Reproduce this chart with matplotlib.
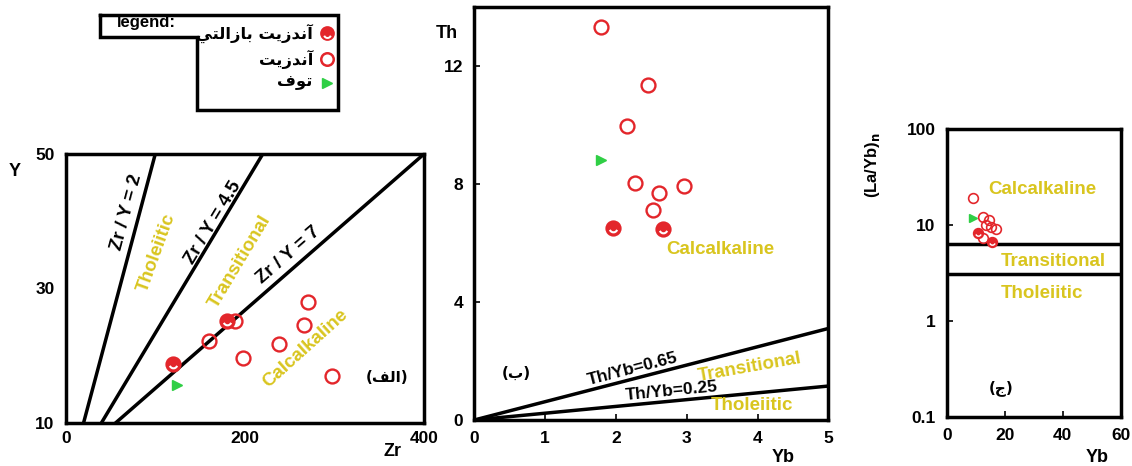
import matplotlib
matplotlib.use('Agg')
import matplotlib.pyplot as plt
from matplotlib.path import Path
from matplotlib.lines import Line2D

plt.rcParams['font.family'] = ['Liberation Sans', 'DejaVu Sans']
plt.rcParams['font.weight'] = 'bold'

RED = '#e3262b'
GREEN = '#2fcf45'
GOLD = '#d9c51f'

# ---- data: panel (a) Zr vs Y ----
a_open_zr = [189, 160, 198, 238, 266, 270, 297]
a_open_y = [25.2, 22.1, 19.6, 21.7, 24.6, 27.9, 17.0]
a_bas_zr = [120, 180]
a_bas_y = [18.7, 25.1]
a_tuf_zr = [124]
a_tuf_y = [15.6]
a_lines = {'2': ([20, 100], [10, 50]),
           '4.5': ([40, 220], [10, 50]),
           '7': ([56, 400], [10, 50])}

# ---- data: panel (b) Yb vs Th ----
b_open_yb = [1.79, 2.46, 2.15, 2.27, 2.61, 2.96, 2.52]
b_open_th = [13.3, 11.36, 9.97, 8.02, 7.68, 7.91, 7.10]
b_bas_yb = [1.96, 2.66]
b_bas_th = [6.50, 6.46]
b_tuf_yb = [1.79]
b_tuf_th = [8.81]
b_lines = {'0.65': ([0, 5], [0, 3.1]), '0.25': ([0, 5], [0, 1.15])}

# ---- data: panel (c) Yb vs (La/Yb)n ----
c_open_yb = [9.2, 12.6, 14.7, 13.4, 15.4, 16.9, 12.6]
c_open_la = [19.0, 12.1, 11.3, 10.0, 9.6, 9.05, 7.3]
c_bas_yb = [10.9, 15.5]
c_bas_la = [8.2, 6.7]
c_tuf_yb = [9.2]
c_tuf_la = [11.8]
c_lines = [6.3, 3.1]

# Arabic labels (presentation forms, visual order)
lab_bas = '\ufef2\ufe98\ufedf\ufe8d\ufeaf\ufe8e\ufe91 \ufe96\ufef3\ufeaf\ufeaa\ufee7\ufe81'
lab_and = '\ufe96\ufef3\ufeaf\ufeaa\ufee7\ufe81'
lab_tuf = '\ufed1\ufeee\ufe97'
tag_a = '(\ufed2\ufedf\ufe8d)'
tag_b = '(\ufe8f)'
tag_c = '(\ufe9d)'
AR = ['DejaVu Sans']

W, H = 1132, 466
fig = plt.figure(figsize=(W / 100, H / 100), dpi=100)


def fx(px):
    return px / W


def fy(py):
    return 1 - py / H


smile = Path.arc(200, 340)


def draw_points(ax, ox, oy, bx, by, tx, ty, ms):
    ax.plot(ox, oy, 'o', ms=ms, mfc='none', mec=RED, mew=ms * 0.17, zorder=5)
    ax.plot(bx, by, 'o', ms=ms, mfc=RED, mec=RED, mew=ms * 0.17, zorder=5)
    ax.plot(bx, by, marker=smile, ms=ms * 0.55, mfc='none', mec='white',
            mew=ms * 0.15, ls='none', zorder=6)
    ax.plot(tx, ty, '>', ms=ms * 0.75, color=GREEN, mec=GREEN, zorder=5)


def frame(ax):
    for s in ax.spines.values():
        s.set_linewidth(2.5)
    ax.tick_params(labelsize=12.5, direction='in', width=1.2, length=4)
    for t in ax.get_xticklabels() + ax.get_yticklabels():
        t.set_fontweight('bold')


def atext(px, py, s, rot=0, color='black', size=13.5, family=None):
    fig.text(fx(px), fy(py), s, rotation=rot, rotation_mode='anchor',
             ha='center', va='center', color=color, fontsize=size,
             fontweight='bold', family=family)


# ---------------- panel (a) ----------------
ax1 = fig.add_axes([fx(65.7), fy(422.7), fx(424) - fx(65.7), fy(154) - fy(422.7)])
for k, (xs, ys) in a_lines.items():
    ax1.plot(xs, ys, color='black', lw=2.5)
draw_points(ax1, a_open_zr, a_open_y, a_bas_zr, a_bas_y, a_tuf_zr, a_tuf_y, 10)
ax1.set_xlim(0, 400)
ax1.set_ylim(10, 50)
ax1.set_xticks([0, 200, 400])
ax1.set_yticks([10, 30, 50])
frame(ax1)
ax1.tick_params(length=0, pad=8)
ax1.tick_params(axis='x', pad=6)

atext(127, 212, 'Zr / Y = 2', 75)
atext(213, 223, 'Zr / Y = 4.5', 59)
atext(288, 255, 'Zr / Y = 7', 41)
atext(157, 253, 'Tholeiitic', 70, GOLD)
atext(240, 262, 'Transitional', 59, GOLD)
atext(305, 348, 'Calcalkaline', 42, GOLD)
atext(387, 377, tag_a, 0, size=11, family=AR)
fig.text(fx(15), fy(172), 'Y', fontsize=13, fontweight='bold', ha='center', va='center')
fig.text(fx(393), fy(452), 'Zr', fontsize=13, fontweight='bold', ha='center', va='center')

# ---------------- panel (b) ----------------
ax2 = fig.add_axes([fx(474.3), fy(420), fx(828.3) - fx(474.3), fy(6.7) - fy(420)])
for k, (xs, ys) in b_lines.items():
    ax2.plot(xs, ys, color='black', lw=2.5)
draw_points(ax2, b_open_yb, b_open_th, b_bas_yb, b_bas_th, b_tuf_yb, b_tuf_th, 10)
ax2.set_xlim(0, 5)
ax2.set_ylim(0, 14)
ax2.set_xticks([0, 1, 2, 3, 4, 5])
ax2.set_yticks([0, 4, 8, 12])
frame(ax2)
ax2.tick_params(pad=8)
atext(720, 249, 'Calcalkaline', 0, GOLD)
atext(633, 369, 'Th/Yb=0.65', 14.5, size=12.5)
atext(672, 391, 'Th/Yb=0.25', 5.5, size=12.5)
atext(750, 367, 'Transitional', 10, GOLD)
atext(752, 405, 'Tholeiitic', 0, GOLD)
atext(516, 373, tag_b, 0, size=11, family=AR)
fig.text(fx(447), fy(33), 'Th', fontsize=13, fontweight='bold', ha='center', va='center')
fig.text(fx(783), fy(458), 'Yb', fontsize=13, fontweight='bold', ha='center', va='center')

# ---------------- panel (c) ----------------
ax3 = fig.add_axes([fx(946.7), fy(416.7), fx(1120.7) - fx(946.7), fy(129.3) - fy(416.7)])
for v in c_lines:
    ax3.axhline(v, color='black', lw=2.5)
draw_points(ax3, c_open_yb, c_open_la, c_bas_yb, c_bas_la, c_tuf_yb, c_tuf_la, 7)
ax3.set_yscale('log')
ax3.set_xlim(0, 60)
ax3.set_ylim(0.1, 100)
ax3.set_xticks([0, 20, 40, 60])
ax3.set_yticks([0.1, 1, 10, 100])
ax3.set_yticklabels(['0.1', '1', '10', '100'])
ax3.minorticks_off()
frame(ax3)
ax3.tick_params(pad=8)
atext(1042, 190, 'Calcalkaline', 0, GOLD)
atext(1053, 261, 'Transitional', 0, GOLD)
atext(1042, 294, 'Tholeiitic', 0, GOLD)
atext(1001, 388, tag_c, 0, size=11, family=AR)
fig.text(fx(872), fy(165), r'(La/Yb)$_{\mathbf{n}}$', rotation=90, fontsize=12,
         fontweight='bold', ha='center', va='center')
fig.text(fx(1097), fy(458), 'Yb', fontsize=13, fontweight='bold', ha='center', va='center')

# ---------------- legend box ----------------
bx = [100, 338, 338, 197, 197, 100, 100]
by = [15, 15, 110, 110, 37, 37, 15]
fig.add_artist(Line2D([fx(p) for p in bx], [fy(p) for p in by], color='black', lw=2.5,
                      solid_joinstyle='miter'))
fig.text(fx(146), fy(22), 'legend:', fontsize=12, fontweight='bold', ha='center', va='center')
leg_y = [33, 59, 83]
for yy, lab in zip(leg_y, [lab_bas, lab_and, lab_tuf]):
    fig.text(fx(313), fy(yy), lab, fontsize=11.8, fontweight='bold', ha='right',
             va='center', family=AR)
fig.add_artist(Line2D([fx(327)], [fy(33)], marker='o', ms=9, mfc=RED, mec=RED, mew=1.6))
fig.add_artist(Line2D([fx(327)], [fy(34)], marker=smile, ms=5, mfc='none', mec='white', mew=1.4))
fig.add_artist(Line2D([fx(327)], [fy(59)], marker='o', ms=9, mfc='none', mec=RED, mew=1.8))
fig.add_artist(Line2D([fx(327)], [fy(83)], marker='>', ms=7, color=GREEN))

fig.savefig('out.png', dpi=100)
